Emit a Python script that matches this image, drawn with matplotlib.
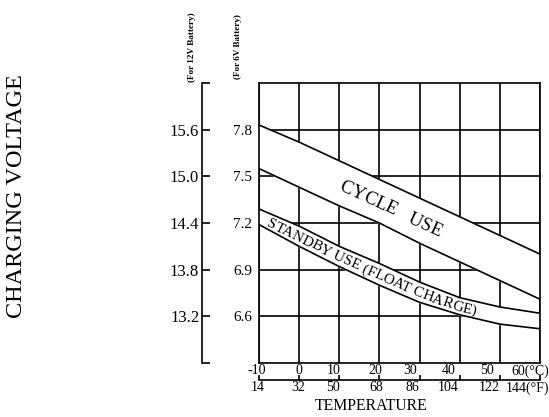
import matplotlib
matplotlib.use("Agg")
import matplotlib.pyplot as plt
import matplotlib.transforms as mtransforms
from matplotlib.textpath import TextToPath
from matplotlib.font_manager import FontProperties
import numpy as np

# temperature grid (deg C) and the labels printed under it
temp_c = [-10, 0, 10, 20, 30, 40, 50, 60]
temp_c_labels = ["-10", "0", "10", "20", "30", "40", "50", "60(°C)"]
temp_f_labels = ["14", "32", "50", "68", "86", "104", "122", "144(°F)"]

# charging voltage bands (6V battery)
cycle_upper = [7.83, 7.72, 7.60, 7.48, 7.36, 7.24, 7.12, 7.00]
cycle_lower = [7.55, 7.43, 7.31, 7.20, 7.07, 6.95, 6.83, 6.71]
standby_upper = [7.29, 7.18, 7.05, 6.94, 6.82, 6.72, 6.66, 6.62]
standby_lower = [7.19, 7.05, 6.92, 6.80, 6.69, 6.61, 6.55, 6.52]

v6_ticks = [6.6, 6.9, 7.2, 7.5, 7.8]
v12_ticks = [12.6, 13.2, 13.8, 14.4, 15.0, 15.6, 16.2]
v12_labels = ["", "13.2", "13.8", "14.4", "15.0", "15.6", ""]

# small left drift of the printed temperature labels (pixels), as in the original print
c_shift = [-2, 0, -6, -4, -9, -11, -13, 9]
f_shift = [-1, -1, -6, -3, -7, -12, -11, 9]

plt.rcParams['font.family'] = ['Liberation Serif', 'DejaVu Serif']

W, H = 549, 417
fig = plt.figure(figsize=(W / 100, H / 100), dpi=100)
ax = fig.add_axes([259 / W, 1 - 363 / H, 281 / W, 280 / H])
ax.set_xlim(-10, 60)
ax.set_ylim(6.3, 8.1)

# grid
ax.set_xticks(temp_c)
ax.set_xticklabels(temp_c_labels)
ax.set_yticks(v6_ticks)
ax.set_yticklabels([f"{v:.1f}" for v in v6_ticks])
ax.grid(True, color='black', lw=1.2)
ax.set_axisbelow(True)
ax.tick_params(axis='both', length=0)
ax.tick_params(axis='y', pad=5, labelsize=11)
ax.tick_params(axis='x', pad=1, labelsize=10)
for s in ax.spines.values():
    s.set_linewidth(1.2)


def shift_labels(axis, shifts):
    labels = axis.get_xticklabels()
    labels[-1].set_ha('right')
    for lab, dx in zip(labels, shifts):
        lab.set_transform(lab.get_transform() + mtransforms.ScaledTranslation(dx / 100, 0, fig.dpi_scale_trans))


shift_labels(ax, c_shift)

# bands (white fill hides the grid)
ax.fill_between(temp_c, cycle_lower, cycle_upper, color='white', zorder=2)
ax.fill_between(temp_c, standby_lower, standby_upper, color='white', zorder=2)
for ys in (cycle_upper, cycle_lower, standby_upper, standby_lower):
    ax.plot(temp_c, ys, color='black', lw=1.2, zorder=3)


def curved_text(text, xs, ys, x_start, size):
    prop = FontProperties(family='Liberation Serif', size=size)
    ttp = TextToPath()
    xd = np.linspace(xs[0], xs[-1], 600)
    yd = np.interp(xd, xs, ys)
    pts = ax.transData.transform(np.column_stack([xd, yd]))
    seg = np.hypot(np.diff(pts[:, 0]), np.diff(pts[:, 1]))
    arc = np.concatenate([[0], np.cumsum(seg)])
    s0 = np.interp(x_start, xd, arc)
    k = fig.dpi / 72
    for i, ch in enumerate(text):
        if ch == ' ':
            continue
        right = ttp.get_text_width_height_descent(text[:i + 1], prop, ismath=False)[0] * k
        w = ttp.get_text_width_height_descent(ch, prop, ismath=False)[0] * k
        s = s0 + right - w / 2
        px = np.interp(s, arc, pts[:, 0])
        py = np.interp(s, arc, pts[:, 1])
        xa = np.interp(s - 8, arc, pts[:, 0]); ya = np.interp(s - 8, arc, pts[:, 1])
        xb = np.interp(s + 8, arc, pts[:, 0]); yb = np.interp(s + 8, arc, pts[:, 1])
        ang = np.degrees(np.arctan2(yb - ya, xb - xa))
        ax.text(px, py, ch, transform=mtransforms.IdentityTransform(), fontproperties=prop,
                rotation=ang, rotation_mode='anchor', ha='center', va='center_baseline', zorder=4)


cycle_mid = [(a + b) / 2 for a, b in zip(cycle_upper, cycle_lower)]
standby_mid = [(a + b) / 2 for a, b in zip(standby_upper, standby_lower)]
curved_text("CYCLE   USE", temp_c, cycle_mid, 10.4, 13.5)
curved_text("STANDBY USE (FLOAT CHARGE)", temp_c, standby_mid, -7.6, 10.8)

# deg F scale under the deg C labels
axf = ax.twiny()
axf.set_xlim(ax.get_xlim())
axf.xaxis.set_ticks_position('bottom')
axf.xaxis.set_label_position('bottom')
for s in ['top', 'left', 'right']:
    axf.spines[s].set_visible(False)
axf.spines['bottom'].set_visible(True)
axf.spines['bottom'].set_position(('outward', 17 * 0.72))
axf.spines['bottom'].set_linewidth(1.2)
axf.set_xticks(temp_c)
axf.set_xticklabels(temp_f_labels)
axf.tick_params(axis='x', direction='in', length=3.5, width=1.2, pad=1, labelsize=10)
shift_labels(axf, f_shift)

# 12V scale on its own spine
ax12 = fig.add_axes(ax.get_position(), label='v12')
ax12.patch.set_visible(False)
ax12.set_ylim(12.6, 16.2)
ax12.set_xticks([])
for s in ['top', 'bottom', 'right']:
    ax12.spines[s].set_visible(False)
ax12.spines['left'].set_position(('outward', 57 * 0.72))
ax12.spines['left'].set_linewidth(1.2)
ax12.set_yticks(v12_ticks)
ax12.set_yticklabels(v12_labels)
ax12.tick_params(axis='y', direction='in', length=6, width=1.2, pad=2, labelsize=12)

fig.text(17 / W, 1 - 196 / H, "CHARGING VOLTAGE", rotation=90, fontsize=17.5, ha='center', va='center')
fig.text(192 / W, 1 - 47 / H, "(For 12V Battery)", rotation=90, fontsize=6.6, fontweight='bold',
         ha='center', va='center')
fig.text(238 / W, 1 - 47 / H, "(For 6V Battery)", rotation=90, fontsize=6.6, fontweight='bold',
         ha='center', va='center')
fig.text(371 / W, 1 - 406 / H, "TEMPERATURE", fontsize=11.3, ha='center', va='center')

fig.savefig("out.png", dpi=100)
